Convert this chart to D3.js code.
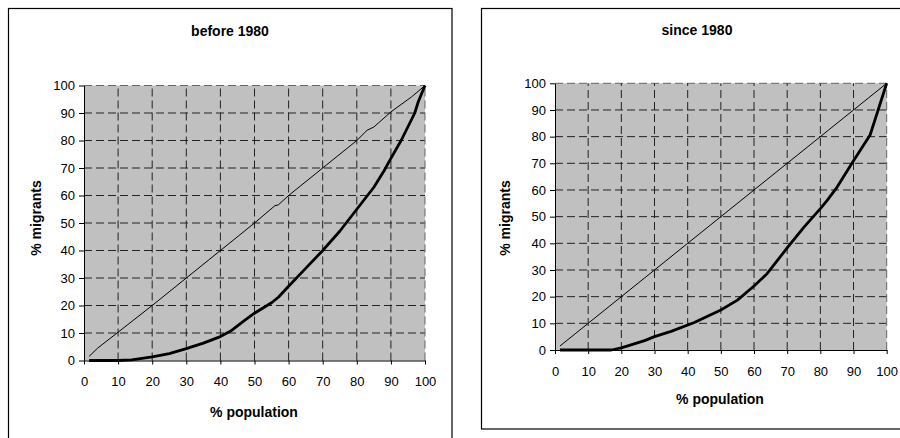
<!DOCTYPE html>
<html>
<head>
<meta charset="utf-8">
<script src="https://cdn.jsdelivr.net/npm/d3@7"></script>
<style>
  body { margin: 0; background: #fff; }
  svg { display: block; }
  text { font-family: "Liberation Sans", Arial, sans-serif; fill: #000; }
</style>
</head>
<body>
<script>
// tick values shared by both panels
var ticks = [0, 10, 20, 30, 40, 50, 60, 70, 80, 90, 100];

// before 1980
var beforePop   = [1.5, 4, 10, 20, 30, 40, 50, 56, 57, 60, 70, 80, 83, 85, 90, 96, 100];
var beforeEqual = [1.5, 4.5, 10.3, 20, 30, 40, 50, 56.3, 56.6, 60, 70, 80, 83.7, 84.9, 90.4, 95.8, 100];
var lorenzPop   = [1.5, 10, 14, 20, 25, 30, 35, 40, 43, 47, 50, 55, 57, 60, 65, 70, 75, 80, 85, 88, 90, 93, 95, 97, 98, 100];
var lorenzMig   = [0, 0, 0.2, 1.3, 2.5, 4.3, 6.3, 8.7, 10.7, 14.5, 17.2, 21, 23, 27, 33.5, 40, 47, 55, 63, 69, 73.5, 80, 85, 90, 94, 100];

// since 1980
var sincePop    = [1.5, 10, 20, 30, 40, 50, 60, 70, 80, 90, 100];
var sinceEqual  = [1.5, 10, 20, 30, 40, 50, 60, 70, 80, 90, 100];
var lorenz2Pop  = [1.5, 10, 17, 20, 27, 30, 35, 42, 50, 55, 60, 64, 70, 75, 80, 82, 85, 90, 95, 100];
var lorenz2Mig  = [0, 0, 0, 0.8, 3.5, 5, 7, 10.3, 15, 18.7, 24, 28.7, 38.3, 46, 53, 56, 61, 71, 80.6, 100];

var svg = d3.select("body").append("svg")
    .attr("width", 900)
    .attr("height", 438);

function zip(xs, ys) {
  return xs.map(function(d, i) { return [d, ys[i]]; });
}

function drawPanel(p) {
  // outer chart frame
  svg.append("rect")
      .attr("x", p.box[0]).attr("y", p.box[1])
      .attr("width", p.box[2]).attr("height", p.box[3])
      .attr("fill", "#fff")
      .attr("stroke", "#000")
      .attr("stroke-width", 1.2);

  var x = d3.scaleLinear().domain([0, 100]).range([p.left, p.right]);
  var y = d3.scaleLinear().domain([0, 100]).range([p.bottom, p.top]);

  var g = svg.append("g");

  g.append("rect")
      .attr("x", p.left).attr("y", p.top)
      .attr("width", p.right - p.left).attr("height", p.bottom - p.top)
      .attr("fill", "#c0c0c0");

  // dashed grid
  g.selectAll(".hg").data(ticks.slice(1)).enter().append("line")
      .attr("x1", p.left).attr("x2", p.right)
      .attr("y1", function(d) { return y(d); })
      .attr("y2", function(d) { return y(d); })
      .attr("stroke", function(d) { return d == 100 ? "#666" : "#222"; })
      .attr("stroke-dasharray", "8,4");

  g.selectAll(".vg").data(ticks.slice(1)).enter().append("line")
      .attr("y1", p.bottom).attr("y2", p.top)
      .attr("x1", function(d) { return x(d); })
      .attr("x2", function(d) { return x(d); })
      .attr("stroke", function(d) { return d == 100 ? "#666" : "#222"; })
      .attr("stroke-dasharray", "8,4");

  // axes
  var ax = g.append("g")
      .attr("transform", "translate(0," + p.bottom + ")")
      .call(d3.axisBottom(x).tickValues(ticks).tickSize(4).tickSizeOuter(0));
  ax.selectAll("text").attr("font-size", 13).attr("dy", "0.35em").attr("y", 21);

  var ay = g.append("g")
      .attr("transform", "translate(" + p.left + ",0)")
      .call(d3.axisLeft(y).tickValues(ticks).tickSize(5).tickSizeOuter(0));
  ay.selectAll("text").attr("font-size", 13).attr("x", -9);

  [ax, ay].forEach(function(a) {
    a.select(".domain").attr("stroke", "#000");
    a.selectAll("line").attr("stroke", "#000");
    a.selectAll("text").attr("fill", "#000").attr("font-family", "Liberation Sans, Arial, sans-serif");
  });

  var line = d3.line()
      .x(function(d) { return x(d[0]); })
      .y(function(d) { return y(d[1]); });

  g.append("path")
      .datum(zip(p.eqX, p.eqY))
      .attr("d", line)
      .attr("fill", "none")
      .attr("stroke", "#000")
      .attr("stroke-width", 1);

  g.append("path")
      .datum(zip(p.lzX, p.lzY))
      .attr("d", line)
      .attr("fill", "none")
      .attr("stroke", "#000")
      .attr("stroke-width", 2.8)
      .attr("stroke-linejoin", "round");

  svg.append("text")
      .attr("x", p.title[0]).attr("y", p.title[1])
      .attr("dy", "0.35em")
      .attr("text-anchor", "middle")
      .attr("font-size", 14)
      .attr("font-weight", "bold")
      .text(p.name);

  svg.append("text")
      .attr("x", p.xlab[0]).attr("y", p.xlab[1])
      .attr("dy", "0.35em")
      .attr("text-anchor", "middle")
      .attr("font-size", 14)
      .attr("font-weight", "bold")
      .text("% population");

  svg.append("text")
      .attr("transform", "translate(" + p.ylab[0] + "," + p.ylab[1] + ") rotate(-90)")
      .attr("dy", "0.35em")
      .attr("text-anchor", "middle")
      .attr("font-size", 14)
      .attr("font-weight", "bold")
      .text("% migrants");
}

drawPanel({
  name: "before 1980",
  box: [8.5, 8.5, 443.5, 440],
  left: 84, right: 425, top: 85.5, bottom: 360.5,
  title: [230, 31], xlab: [254, 412], ylab: [36, 218],
  eqX: beforePop, eqY: beforeEqual, lzX: lorenzPop, lzY: lorenzMig
});

drawPanel({
  name: "since 1980",
  box: [481.5, 8.5, 430, 420.5],
  left: 555, right: 886.7, top: 83.3, bottom: 350,
  title: [697, 30], xlab: [720, 399], ylab: [505, 218],
  eqX: sincePop, eqY: sinceEqual, lzX: lorenz2Pop, lzY: lorenz2Mig
});
</script>
</body>
</html>
